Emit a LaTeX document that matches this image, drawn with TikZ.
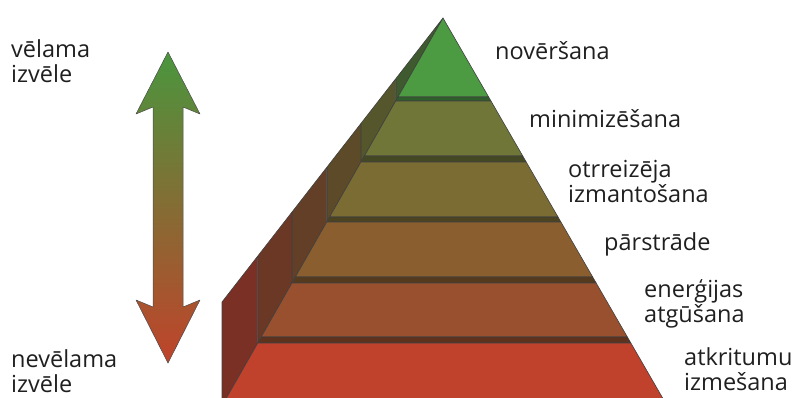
\documentclass[tikz,border=0pt]{standalone}
\usepackage{fontspec}
\setmainfont{Open Sans}

\definecolor{tierA}{HTML}{4C9A42}
\definecolor{tierB}{HTML}{6F7638}
\definecolor{tierC}{HTML}{7B6C33}
\definecolor{tierD}{HTML}{8A5E2F}
\definecolor{tierE}{HTML}{99502E}
\definecolor{tierF}{HTML}{C0412C}
\definecolor{sideA}{HTML}{3F5A2E}
\definecolor{sideB}{HTML}{55562C}
\definecolor{sideC}{HTML}{5C4A29}
\definecolor{sideD}{HTML}{633F27}
\definecolor{sideE}{HTML}{6C3826}
\definecolor{sideF}{HTML}{7A3024}
\definecolor{arrowtop}{HTML}{4A963E}
\definecolor{arrowmid}{HTML}{7A6A30}
\definecolor{arrowbot}{HTML}{C0432A}

\begin{document}
\begin{tikzpicture}[x=1pt, y=-1pt,
    label/.style={anchor=base west, inner sep=0pt, align=left,
                  font=\fontsize{23.5}{25}\selectfont, text=black!88},
    edge/.style={draw=black!75, line width=0.6pt, line join=round}]

    \useasboundingbox (0,0) rectangle (796,397);
    \clip (0,0) rectangle (796,397);

    % Pyramid
    \def\xa{443}    % x apex
    \def\ya{18}     % y apex
    \def\sl{0.57}   % left slope of the front
    \def\sr{0.578}  % right slope of the front
    \def\xs{222}    % x back corner
    \def\ys{302}    % y back corner
    \def\ss{1.285}  % slope of the back edge

    % Side panels, front faces, bands
    \foreach \t/\b/\n/\xn/\fc/\sc in {
        18/97/101/396/tierA/sideA,
        101/156/162/361/tierB/sideB,
        162/217/222/327/tierC/sideC,
        222/277/283/292/tierD/sideD,
        283/337/343/258/tierE/sideE,
        343/404/404/222/tierF/sideF}{
        \pgfmathsetmacro\xt{\xa-\sl*(\t-\ya)}
        \pgfmathsetmacro\xb{\xa-\sl*(\b-\ya)}
        \pgfmathsetmacro\xc{\xa-\sl*(\n-\ya)}
        \pgfmathsetmacro\rt{\xa+\sr*(\t-\ya)}
        \pgfmathsetmacro\rb{\xa+\sr*(\b-\ya)}
        \pgfmathsetmacro\rc{\xa+\sr*(\n-\ya)}
        \pgfmathsetmacro\st{\ys-\ss*(\xt-\xs)}
        \pgfmathsetmacro\sn{\ys-\ss*(\xn-\xs)}
        \filldraw[edge, fill=\sc] (\xt,\st) -- (\xt,\t) -- (\xb,\b) -- (\xc,\n)
            -- (\xn,\n) -- (\xn,\sn) -- cycle;
        \filldraw[edge, fill=\fc] (\xt,\t) -- (\rt,\t) -- (\rb,\b) -- (\xb,\b) -- cycle;
        \filldraw[edge, fill=\fc!62!black] (\xb,\b) -- (\rb,\b) -- (\rc,\n) -- (\xc,\n) -- cycle;
    }

    % Arrow
    \shadedraw[top color=arrowtop, middle color=arrowmid, bottom color=arrowbot,
        draw=black!70, line width=0.5pt, line join=round]
        (168,52) -- (200,114) -- (183,107) -- (183,307) -- (200,300) -- (168,363)
        -- (136,300) -- (153,307) -- (153,107) -- (136,114) -- cycle;

    % Labels
    \node[label] (best)   at (11,82)  {vēlama\\izvēle};
    \node[label] (worst)  at (11,392) {nevēlama\\izvēle};
    \node[label] (prev)   at (495,59) {novēršana};
    \node[label] (mini)   at (529,127) {minimizēšana};
    \node[label] (reuse)  at (568,202) {otrreizēja\\izmantošana};
    \node[label] (recyc)  at (604,250) {pārstrāde};
    \node[label] (energy) at (644,322) {enerģijas\\atgūšana};
    \node[label] (disp)   at (684,390) {atkritumu\\izmešana};

\end{tikzpicture}
\end{document}
